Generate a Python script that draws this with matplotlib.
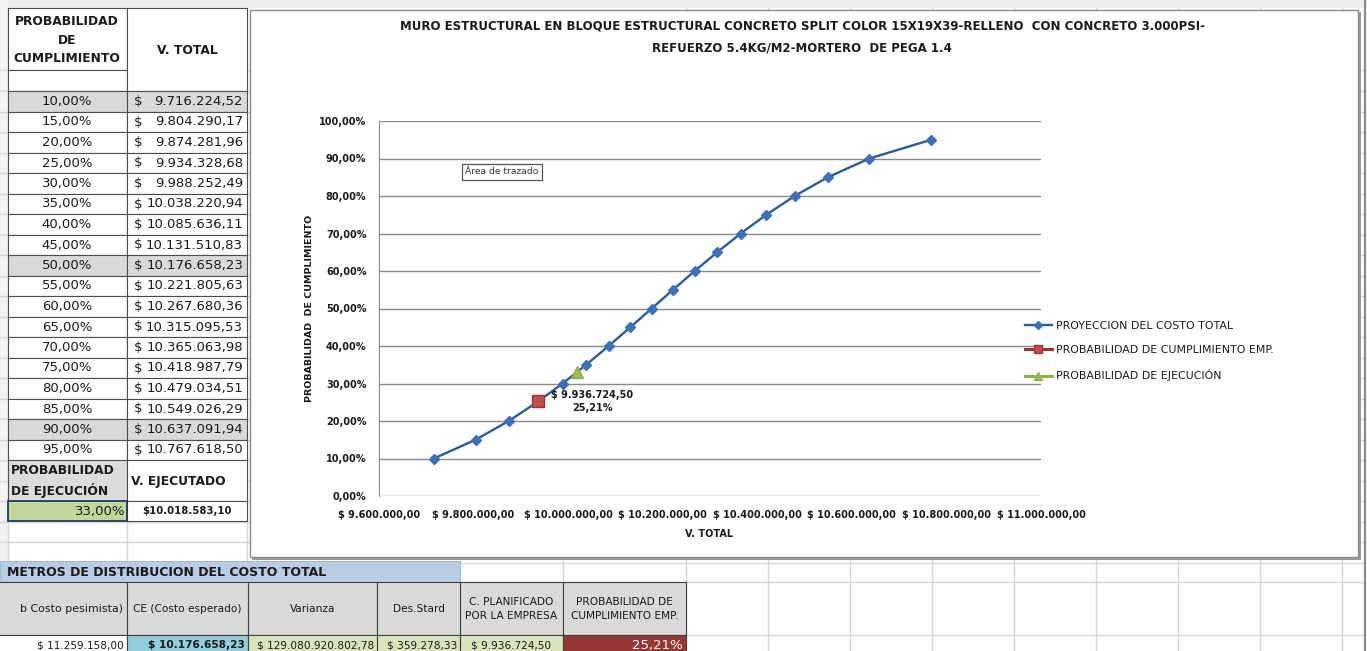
import matplotlib.pyplot as plt
from matplotlib.patches import Rectangle
from matplotlib.ticker import FuncFormatter, MultipleLocator

W, H = 1367, 651

# datos de la tabla de proyeccion
prob_cumplimiento = [10, 15, 20, 25, 30, 35, 40, 45, 50, 55, 60, 65, 70, 75, 80, 85, 90, 95]
v_total = [9716224.52, 9804290.17, 9874281.96, 9934328.68, 9988252.49, 10038220.94,
           10085636.11, 10131510.83, 10176658.23, 10221805.63, 10267680.36, 10315095.53,
           10365063.98, 10418987.79, 10479034.51, 10549026.29, 10637091.94, 10767618.50]
filas_gris = [10, 50, 90]

prob_ejecucion = 33.00
v_ejecutado = 10018583.10
c_planificado = 9936724.50
prob_emp = 25.21

param_headers = ["b Costo pesimista)", "CE (Costo esperado)", "Varianza", "Des.Stard",
                 "C. PLANIFICADO\nPOR LA EMPRESA", "PROBABILIDAD DE\nCUMPLIMIENTO EMP."]
param_values = [11259158.00, 10176658.23, 129080920802.78, 359278.33, 9936724.50]

titulo = ("MURO ESTRUCTURAL EN BLOQUE ESTRUCTURAL CONCRETO SPLIT COLOR 15X19X39-RELLENO  CON CONCRETO 3.000PSI-\n"
          "REFUERZO 5.4KG/M2-MORTERO  DE PEGA 1.4")
leyenda = ["PROYECCION DEL COSTO TOTAL", "PROBABILIDAD DE CUMPLIMIENTO EMP.", "PROBABILIDAD DE EJECUCIÓN"]

GRID = '#D6D6D6'
BORDE = '#4D4D4D'


def num(v):
    return f"{v:,.2f}".replace(",", " ").replace(".", ",").replace(" ", ".")


def pct(v):
    return f"{v:.2f}%".replace(".", ",")


fig = plt.figure(figsize=(W / 100, H / 100), dpi=100)
bg = fig.add_axes([0, 0, 1, 1])
bg.set_xlim(0, W)
bg.set_ylim(H, 0)
bg.axis('off')


def cell(x0, y0, x1, y1, fc='white', ec=BORDE, lw=0.8, z=2):
    bg.add_patch(Rectangle((x0, y0), x1 - x0, y1 - y0, facecolor=fc, edgecolor=ec, lw=lw, zorder=z))


def txt(x, y, s, ha='center', size=9.5, weight='normal', color='#1A1A1A', **kw):
    bg.text(x, y, s, ha=ha, va='center', fontsize=size, fontweight=weight, color=color,
            zorder=5, **kw)


# fondo de hoja
bg.add_patch(Rectangle((0, 0), W, 8, facecolor='#EEEEEE', lw=0, zorder=0))
bg.add_patch(Rectangle((0, 0), 8, 561, facecolor='#F2F2F2', lw=0, zorder=0))
filas = [70] + [91 + 20.5 * k for k in range(24)] + [582, 635]
for y in filas:
    bg.plot([0, W], [y, y], color=GRID, lw=1, zorder=1)
for x in [686 + 82 * k for k in range(9)]:
    bg.plot([x, x], [8, H], color=GRID, lw=1, zorder=1)
for x in [8, 127, 247]:
    bg.plot([x, x], [8, 561], color=GRID, lw=1, zorder=1)
for x in [127, 248, 377, 460, 563]:
    bg.plot([x, x], [561, H], color=GRID, lw=1, zorder=1)
bg.plot([1365, 1365], [0, H], color='#8A8A8A', lw=1.6, zorder=6)

# tabla izquierda
ca, cb, cc = 8, 127, 247
cell(ca, 8, cb, 70)
cell(ca, 70, cb, 91)
cell(cb, 8, cc, 91)
txt(67, 40, "PROBABILIDAD\nDE\nCUMPLIMIENTO", size=8.8, weight='bold', linespacing=1.55)
txt(187, 50, "V. TOTAL", size=8.8, weight='bold')
for i, (p, v) in enumerate(zip(prob_cumplimiento, v_total)):
    y0 = 91 + 20.5 * i
    fc = '#D9D9D9' if p in filas_gris else 'white'
    cell(ca, y0, cb, y0 + 20.5, fc=fc)
    cell(cb, y0, cc, y0 + 20.5, fc=fc)
    txt(67, y0 + 10.5, pct(p))
    txt(134, y0 + 10.5, "$", ha='left')
    txt(243, y0 + 10.5, num(v), ha='right')

cell(ca, 460, cb, 501, fc='#DCDCDC')
cell(cb, 460, cc, 501)
txt(11, 481, "PROBABILIDAD\nDE EJECUCIÓN", ha='left', size=8.8, weight='bold', linespacing=1.5)
txt(131, 481, "V. EJECUTADO", ha='left', size=8.8, weight='bold')
cell(ca, 501, cb, 521, fc='#C4D79B', ec='#1F3864', lw=1.3, z=3)
cell(cb, 501, cc, 521)
txt(125, 511, pct(prob_ejecucion), ha='right')
txt(187, 511, "$" + num(v_ejecutado), size=7.3, weight='bold')

# marco del grafico
bg.add_patch(Rectangle((252, 12), 1109, 548, facecolor='#9A9A9A', lw=0, zorder=3))
cell(250, 10, 1358, 557, fc='white', ec='#8C8C8C', lw=1, z=4)

# tabla de parametros
bg.add_patch(Rectangle((0, 561), 460, 21, facecolor='#B8CCE4', edgecolor='#9AAFC9', lw=0.6, zorder=2))
txt(7, 572, "METROS DE DISTRIBUCION DEL COSTO TOTAL", ha='left', size=9, weight='bold')
bordes = [-2, 127, 248, 377, 460, 563, 686]
fills = ['white', '#92CDDC', '#D8E4BC', '#D8E4BC', '#D8E4BC', '#953735']
for k, head in enumerate(param_headers):
    x0, x1 = bordes[k], bordes[k + 1]
    cell(x0, 582, x1, 635, fc='#D9D9D9', ec='#3F3F3F')
    cell(x0, 635, x1, 660, fc=fills[k], ec='#3F3F3F')
    if k == 0:
        txt(123, 609, head, ha='right', size=7.9)
    else:
        txt((x0 + x1) / 2, 609, head, size=7.6, linespacing=1.5)
for k, v in enumerate(param_values):
    x0, x1 = bordes[k], bordes[k + 1]
    w = 'bold' if k == 1 else 'normal'
    if k == 4:
        txt((x0 + x1) / 2, 645, "$ " + num(v), size=7.6, weight=w)
    else:
        txt(x1 - 3, 645, "$ " + num(v), ha='right', size=7.6, weight=w)
txt(683, 645, pct(prob_emp), ha='right', size=9.5, color='white')

# grafico
ax = fig.add_axes([379 / W, 1 - 496 / H, (1041 - 379) / W, (496 - 121) / H])
ax.patch.set_alpha(0)
ax.plot(v_total, prob_cumplimiento, color='#2D5B97', lw=1.7, marker='D', ms=5.5,
        mfc='#3F6FB5', mec='#3F6FB5', label=leyenda[0], zorder=3)
ax.plot([c_planificado], [prob_emp], color='#9B3533', lw=2.2, marker='s', ms=8,
        mfc='#C0504D', mec='#9B3533', label=leyenda[1], zorder=4)
ax.plot([v_ejecutado], [prob_ejecucion], color='#8EB04A', lw=2.2, marker='^', ms=8,
        mfc='#9BBB59', mec='#8EB04A', label=leyenda[2], zorder=4)
ax.annotate("$ " + num(c_planificado) + "\n" + pct(prob_emp), xy=(c_planificado, prob_emp),
            xytext=(39, 0), textcoords='offset points', ha='center', va='center',
            fontsize=7, fontweight='bold', color='#1A1A1A', linespacing=1.4)

ax.set_xlim(9.6e6, 11.0e6)
ax.set_ylim(0, 100)
ax.xaxis.set_major_locator(MultipleLocator(200000))
ax.yaxis.set_major_locator(MultipleLocator(10))
ax.xaxis.set_major_formatter(FuncFormatter(lambda v, p: "$ " + num(v)))
ax.yaxis.set_major_formatter(FuncFormatter(lambda v, p: pct(v)))
ax.tick_params(axis='both', length=0, labelsize=7, colors='#1A1A1A')
ax.tick_params(axis='y', pad=9)
ax.tick_params(axis='x', pad=10)
for lab in ax.get_xticklabels() + ax.get_yticklabels():
    lab.set_fontweight('bold')
ax.grid(axis='y', color='#8A8A8A', lw=1)
for s in ['top', 'right', 'bottom']:
    ax.spines[s].set_visible(False)
ax.spines['left'].set_color('#8A8A8A')
ax.set_axisbelow(True)

ax.legend(loc='center left', bbox_to_anchor=(1025 / W, 1 - 351 / H), bbox_transform=fig.transFigure,
          frameon=False, fontsize=7.9, handlelength=2.45, handletextpad=0.37, labelspacing=1.32,
          borderpad=0, borderaxespad=0, markerscale=0.8, labelcolor='#1A1A1A')

fig.text(802 / W, 1 - 37 / H, titulo, ha='center', va='center', fontsize=8.5, fontweight='bold',
         linespacing=1.95, color='#1A1A1A')
fig.text(310 / W, 1 - 308 / H, "PROBABILIDAD  DE CUMPLIMIENTO", rotation=90, ha='center', va='center',
         fontsize=6.8, fontweight='bold', color='#1A1A1A')
fig.text(709 / W, 1 - 534 / H, "V. TOTAL", ha='center', va='center', fontsize=7, fontweight='bold',
         color='#1A1A1A')
fig.text(502 / W, 1 - 172 / H, "Área de trazado", ha='center', va='center', fontsize=6.6,
         color='#333333', zorder=6,
         bbox=dict(boxstyle='square,pad=0.35', facecolor='white', edgecolor='#555555', lw=0.9))

fig.savefig("out.png", dpi=100)
